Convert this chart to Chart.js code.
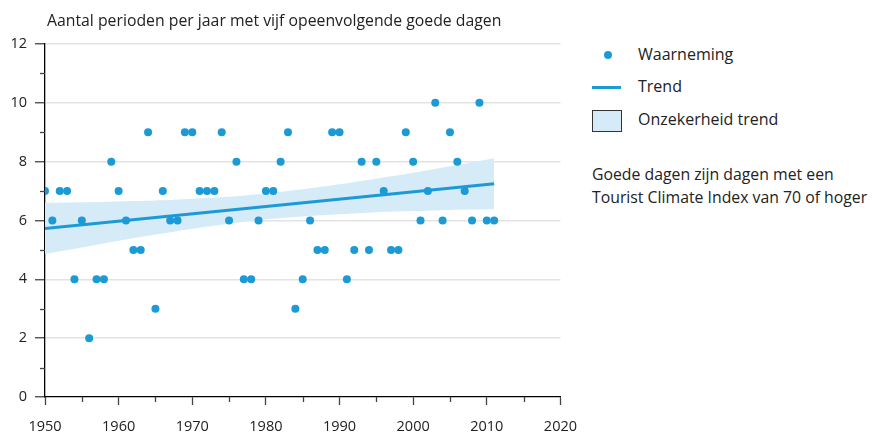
<html lang="nl">
<head>
<meta charset="UTF-8">
<title>Goede dagen</title>
<script src="https://cdn.jsdelivr.net/npm/chart.js"></script>
<style>
  body { margin: 0; background: #fff; font-family: "Open Sans", sans-serif; color: #222; }
  #wrap { position: relative; width: 877px; height: 434px; }
  #chart { position: absolute; left: 0; top: 0; }
  .title { position: absolute; left: 47px; top: 9px; font-size: 15.8px; }
  .leg { position: absolute; font-size: 16px; }
  .dot { position: absolute; left: 604px; top: 51px; width: 8px; height: 8px; border-radius: 50%; background: #1b9ad6; }
  .ln { position: absolute; left: 592px; top: 86px; width: 29px; height: 3px; background: #1b9ad6; }
  .box { position: absolute; left: 592px; top: 110px; width: 28px; height: 20px; border: 1px solid #333; background: #d5ebf8; }
  .note { position: absolute; left: 592px; top: 163px; font-size: 15.8px; line-height: 23px; white-space: nowrap; }
</style>
</head>
<body>
<div id="wrap">
  <canvas id="chart" width="590" height="434"></canvas>
  <div class="title">Aantal perioden per jaar met vijf opeenvolgende goede dagen</div>
  <div class="dot"></div><div class="leg" style="left:638px;top:43px">Waarneming</div>
  <div class="ln"></div><div class="leg" style="left:638px;top:75px">Trend</div>
  <div class="box"></div><div class="leg" style="left:638px;top:108px">Onzekerheid trend</div>
  <div class="note">Goede dagen zijn dagen met een<br>Tourist Climate Index van 70 of hoger</div>
</div>
<script>
const years = [1950, 1951, 1952, 1953, 1954, 1955, 1956, 1957, 1958, 1959,
  1960, 1961, 1962, 1963, 1964, 1965, 1966, 1967, 1968, 1969,
  1970, 1971, 1972, 1973, 1974, 1975, 1976, 1977, 1978, 1979,
  1980, 1981, 1982, 1983, 1984, 1985, 1986, 1987, 1988, 1989,
  1990, 1991, 1992, 1993, 1994, 1995, 1996, 1997, 1998, 1999,
  2000, 2001, 2002, 2003, 2004, 2005, 2006, 2007, 2008, 2009,
  2010, 2011];
const periods = [7, 6, 7, 7, 4, 6, 2, 4, 4, 8,
  7, 6, 5, 5, 9, 3, 7, 6, 6, 9,
  9, 7, 7, 7, 9, 6, 8, 4, 4, 6,
  7, 7, 8, 9, 3, 4, 6, 5, 5, 9,
  9, 4, 5, 8, 5, 8, 7, 5, 5, 9,
  8, 6, 7, 10, 6, 9, 8, 7, 6, 10,
  6, 6];

const trendYears = [1950, 2011];
const trendValues = [5.73, 7.25];

const bandYears = [1950, 1955, 1960, 1965, 1970, 1975, 1980, 1985, 1990, 1995, 2000, 2005, 2011];
const bandLow = [4.86, 5.08, 5.31, 5.52, 5.72, 5.89, 6.04, 6.14, 6.21, 6.28, 6.32, 6.36, 6.38];
const bandHigh = [6.60, 6.62, 6.65, 6.68, 6.74, 6.81, 6.92, 7.06, 7.23, 7.42, 7.62, 7.84, 8.12];

const blue = '#1b9ad6';
const bandFill = '#d5ebf8';

const pts = (xs, ys) => xs.map((x, i) => ({ x: x, y: ys[i] }));

// short ticks for odd y values and 5-year x values
const minorTicks = {
  id: 'minorTicks',
  afterDraw(chart) {
    const c = chart.ctx, x = chart.scales.x, y = chart.scales.y;
    c.save();
    c.strokeStyle = '#444';
    c.lineWidth = 1.3;
    for (let v = 1; v < 12; v += 2) {
      const py = Math.round(y.getPixelForValue(v)) + 0.5;
      c.beginPath(); c.moveTo(x.left - 5, py); c.lineTo(x.left, py); c.stroke();
    }
    for (let v = 1955; v < 2020; v += 10) {
      const px = Math.round(x.getPixelForValue(v)) + 0.5;
      c.beginPath(); c.moveTo(px, y.bottom); c.lineTo(px, y.bottom + 5); c.stroke();
    }
    c.restore();
  }
};

new Chart(document.getElementById('chart'), {
  type: 'scatter',
  data: {
    datasets: [
      {
        type: 'line', label: 'low', data: pts(bandYears, bandLow),
        borderWidth: 0, pointRadius: 0, fill: false, tension: 0.3, order: 3
      },
      {
        type: 'line', label: 'Onzekerheid trend', data: pts(bandYears, bandHigh),
        borderWidth: 0, pointRadius: 0, fill: '-1', backgroundColor: bandFill, tension: 0.3, order: 2
      },
      {
        type: 'line', label: 'Trend', data: pts(trendYears, trendValues),
        borderColor: blue, borderWidth: 3, pointRadius: 0, fill: false, order: 1
      },
      {
        label: 'Waarneming', data: pts(years, periods),
        backgroundColor: blue, borderWidth: 0, pointRadius: 4, order: 0
      }
    ]
  },
  options: {
    responsive: false,
    animation: false,
    devicePixelRatio: 1,
    layout: { padding: { top: 44, right: 29, left: 0, bottom: 0 } },
    plugins: { legend: { display: false }, tooltip: { enabled: false } },
    scales: {
      x: {
        type: 'linear', min: 1950, max: 2020,
        afterFit: s => { s.height = 37; },
        border: { display: true, color: '#000', width: 1.3 },
        grid: { drawOnChartArea: false, drawTicks: true, tickLength: 8,
          tickColor: ctx => (ctx.tick && ctx.tick.value % 10 === 0) ? '#444' : 'rgba(0,0,0,0)', tickWidth: 1.3 },
        ticks: { stepSize: 5, padding: 13, color: '#222', font: { family: 'Open Sans', size: 14.5 },
          maxRotation: 0, autoSkip: false,
          callback: v => v % 10 === 0 ? String(v) : '' }
      },
      y: {
        min: 0, max: 12,
        afterFit: s => { s.width = 45; },
        border: { display: true, color: '#000', width: 1.3 },
        grid: {
          color: ctx => (ctx.tick && ctx.tick.value % 2 === 0 && ctx.tick.value !== 0) ? '#e3e3e3' : 'rgba(0,0,0,0)',
          lineWidth: 1.5,
          drawTicks: true, tickLength: 10,
          tickColor: ctx => (ctx.tick && ctx.tick.value % 2 === 0) ? '#444' : 'rgba(0,0,0,0)', tickWidth: 1.3
        },
        ticks: { stepSize: 1, padding: 8, color: '#222', font: { family: 'Open Sans', size: 14.5 },
          autoSkip: false,
          callback: v => v % 2 === 0 ? String(v) : '' }
      }
    }
  },
  plugins: [minorTicks]
});
</script>
</body>
</html>
